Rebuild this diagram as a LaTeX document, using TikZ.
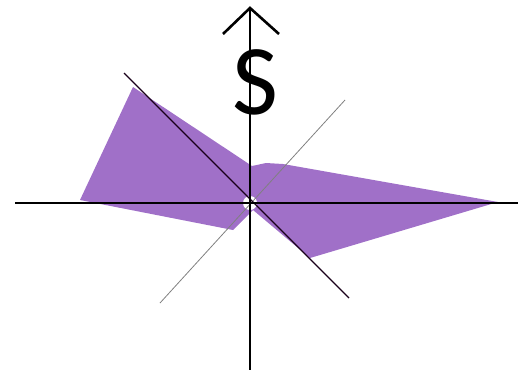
\documentclass[tikz,border=0pt]{standalone}
\usepackage{fontspec}
\newfontfamily\calib{Carlito}
\begin{document}
\begin{tikzpicture}[x=1pt,y=-1pt,
  axis/.style={line width=1.4pt,black},
  diagdark/.style={line width=1.1pt,black!80!violet},
  diaggray/.style={line width=0.8pt,gray},
  lobe/.style={fill={rgb,255:red,160;green,112;blue,200},draw=none}]
\useasboundingbox (0,0) rectangle (518,375);
% shaded region
\fill[lobe] (133,87) -- (252,166) -- (266,163) -- (283,164) -- (498,202) -- (310,258) -- (253,210)
  -- (233,230) -- (80,200) -- cycle;
\fill[white] (250,203) circle (7);
% coordinates
\coordinate (hl) at (15,203);
\coordinate (hr) at (518,203);
\coordinate (vt) at (250,8);
\coordinate (vb) at (250,370);
\coordinate (d1a) at (124,73);
\coordinate (d1b) at (349,298);
\coordinate (d2a) at (160,303);
\coordinate (d2b) at (345,100);
\coordinate (cl) at (223,34);
\coordinate (cr) at (279,34);
% lines
\draw[diaggray] (d2a) -- (d2b);
\draw[diagdark] (d1a) -- (d1b);
\draw[axis] (hl) -- (hr);
\node[inner sep=0pt,anchor=base] (dollar) at (255,114) {\calib\fontsize{100}{100}\selectfont S};
\draw[axis] (vt) -- (vb);
\draw[line width=2.6pt,line join=miter] (cl) -- (vt) -- (cr);
\end{tikzpicture}
\end{document}
